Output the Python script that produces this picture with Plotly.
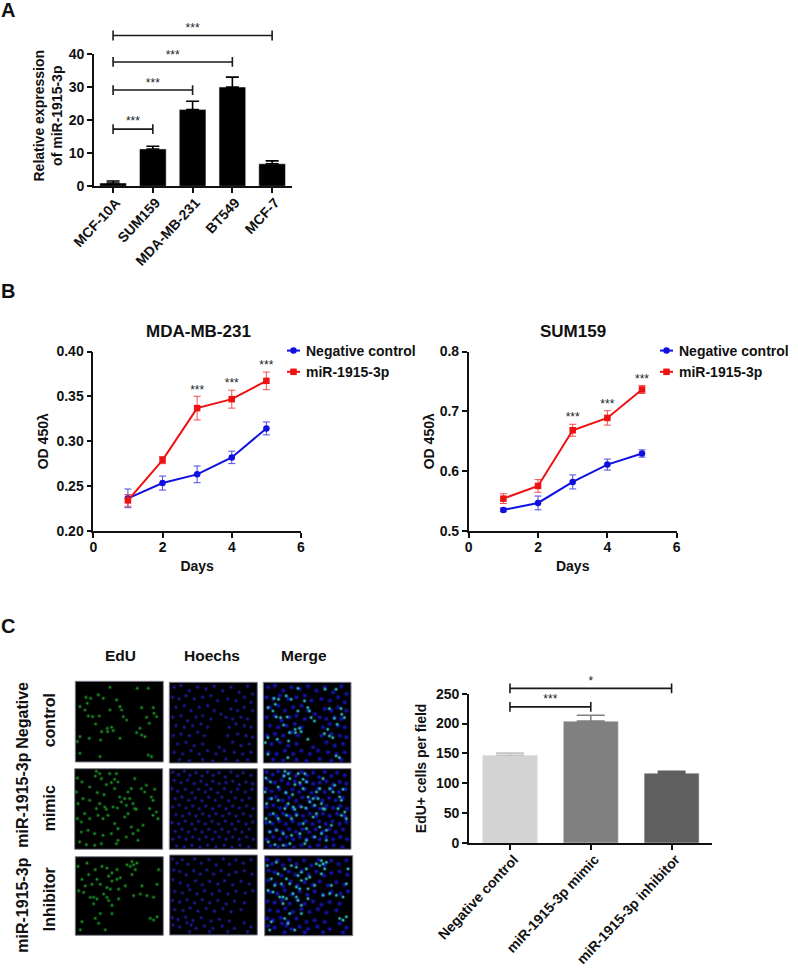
import plotly.graph_objects as go

W, H = 798, 970

# ---------- data ----------
cell_lines = ["MCF-10A", "SUM159", "MDA-MB-231", "BT549", "MCF-7"]
expr_values = [1.0, 11.3, 23.2, 30.0, 6.8]
expr_errors = [0.6, 0.8, 2.5, 3.0, 0.9]
expr_bracket_ends = [1, 2, 3, 4]
expr_bracket_levels = [17.3, 29.1, 37.6, 45.6]
expr_star_x = [0.5, 1.0, 1.5, 2.0]
expr_star_y = [19.4, 31.0, 39.5, 47.5]

days = [1, 2, 3, 4, 5]
mda_nc = [0.2364, 0.2534, 0.2631, 0.2820, 0.3143]
mda_nc_err = [0.0104, 0.0078, 0.0093, 0.0069, 0.0072]
mda_mir = [0.2341, 0.2790, 0.3369, 0.3469, 0.3673]
mda_mir_err = [0.0065, 0.0040, 0.0132, 0.0100, 0.0098]
mda_star_days = [3, 4, 5]
mda_star_y = [0.3560, 0.3634, 0.3842]

sum_nc = [0.5352, 0.5469, 0.5820, 0.6110, 0.6295]
sum_nc_err = [0.0030, 0.0115, 0.0117, 0.0092, 0.0061]
sum_mir = [0.5541, 0.5753, 0.6684, 0.6890, 0.7365]
sum_mir_err = [0.0081, 0.0106, 0.0100, 0.0120, 0.0067]
sum_star_days = [3, 4, 5]
sum_star_y = [0.6885, 0.7114, 0.7521]

edu_groups = ["Negative control", "miR-1915-3p mimic", "miR-1915-3p inhibitor"]
edu_values = [147, 204, 117]
edu_errors = [3.5, 10, 3]
edu_bracket_ends = [1, 2]
edu_bracket_levels = [228, 259]
edu_star_x = [0.5, 1.0]
edu_star_y = [240, 269]
edu_star_text = ["***", "*"]

# fluorescence fields: nuclei positions
edu_1 = [(104,18),(32,48),(46,51),(14,76),(69,41),(84,51),(36,66),(124,56),(52,106),(39,104),(72,104),(61,128),(29,86),(134,76),(139,86),(199,79),(234,79),(236,96),(214,108),(222,126),(96,141),(109,138),(114,148),(97,151),(14,166),(79,151),(76,176),(42,171),(194,141),(184,154),(199,161),(209,166),(134,171),(74,226),(14,216),(186,21),(219,21),(144,106),(154,116),(244,106),(6,181),(104,86),(219,221),(229,226)]
edu_2 = [(65,8),(75,15),(62,22),(80,30),(105,15),(125,15),(120,32),(130,40),(110,42),(95,48),(8,28),(22,40),(45,55),(68,72),(88,78),(120,60),(135,85),(150,90),(165,90),(160,70),(170,60),(200,60),(210,70),(240,62),(230,85),(75,105),(90,115),(95,122),(115,115),(128,118),(155,110),(175,105),(185,122),(160,135),(150,145),(180,120),(140,100),(65,120),(30,135),(45,150),(20,160),(8,150),(70,140),(85,150),(100,140),(120,165),(130,180),(170,175),(190,185),(205,170),(235,140),(245,130),(250,150),(20,190),(40,185),(60,195),(85,200),(110,195),(130,215),(155,205),(175,195),(190,215),(15,220),(35,228),(60,230),(80,225),(125,225),(10,105),(25,90),(5,70),(45,95),(180,30),(215,50),(235,95),(225,120)]
edu_3 = [(60,40),(40,55),(80,30),(95,35),(110,50),(125,40),(155,25),(165,30),(170,15),(180,40),(170,55),(175,25),(185,20),(65,70),(50,85),(75,85),(95,95),(110,75),(125,70),(135,65),(100,60),(10,105),(25,110),(45,125),(55,125),(65,130),(55,145),(85,115),(95,125),(100,135),(105,100),(130,100),(75,175),(110,150),(30,90),(150,90),(175,120),(195,115),(215,120),(235,125),(200,90),(245,85),(20,200),(60,190),(70,205),(90,225),(15,225),(235,195),(245,185),(110,175),(130,130),(20,70),(8,30),(35,20),(250,40),(225,190)]
hoe_1 = [(15,15),(35,10),(60,25),(85,15),(110,20),(135,12),(160,25),(185,15),(210,30),(235,12),(250,35),(10,45),(30,50),(50,40),(75,50),(100,45),(125,40),(145,55),(175,50),(200,55),(225,45),(245,60),(20,75),(45,70),(65,85),(90,75),(115,70),(135,85),(155,95),(185,80),(205,85),(225,75),(250,85),(10,105),(35,100),(55,115),(80,105),(100,100),(125,110),(170,105),(190,110),(215,105),(235,110),(20,130),(45,135),(70,130),(95,125),(115,135),(180,135),(200,125),(225,130),(245,135),(12,160),(35,155),(60,160),(85,150),(105,160),(175,160),(205,155),(230,160),(250,165),(25,185),(50,180),(75,190),(100,185),(150,195),(190,180),(215,190),(240,185),(15,210),(40,215),(65,205),(90,215),(115,205),(140,215),(165,205),(195,210),(220,215),(245,210),(30,232),(60,235),(100,232),(130,236),(170,230),(205,235),(235,232)]
hoe_2 = [(10,10),(28,18),(45,8),(62,20),(80,12),(98,22),(115,10),(132,20),(150,12),(168,25),(185,10),(205,22),(222,12),(245,20),(15,35),(35,42),(55,35),(75,45),(95,38),(112,48),(130,38),(150,45),(170,42),(190,38),(210,48),(230,40),(250,45),(8,60),(25,68),(48,62),(68,72),(88,62),(108,70),(125,62),(145,72),(165,60),(185,70),(205,62),(228,70),(248,62),(18,90),(38,85),(58,95),(78,88),(98,96),(118,86),(138,95),(158,86),(178,96),(198,88),(218,95),(240,88),(10,115),(30,110),(50,118),(70,112),(90,120),(110,112),(130,120),(150,112),(170,120),(190,112),(210,118),(232,112),(252,120),(20,138),(40,142),(60,135),(80,142),(100,135),(120,142),(140,135),(160,142),(180,135),(200,142),(222,135),(244,142),(8,162),(28,165),(48,158),(68,166),(88,158),(108,166),(128,158),(148,166),(168,158),(188,166),(208,158),(230,166),(250,160),(18,188),(38,182),(58,190),(78,182),(98,190),(118,182),(138,190),(158,182),(178,190),(198,182),(218,190),(240,182),(10,212),(30,205),(50,212),(70,205),(90,212),(110,205),(130,212),(150,205),(170,212),(190,205),(210,212),(232,205),(252,212),(22,232),(45,235),(68,230),(92,236),(115,230),(140,235),(165,230),(188,236),(212,230),(238,235)]
hoe_3 = [(8,12),(22,25),(12,45),(38,14),(55,28),(75,12),(95,25),(118,14),(140,30),(162,12),(180,28),(200,15),(222,25),(245,14),(30,50),(50,60),(72,48),(92,58),(112,45),(132,58),(155,48),(178,60),(200,52),(225,48),(248,58),(10,75),(32,85),(55,92),(78,78),(98,90),(120,80),(145,88),(165,78),(190,90),(215,80),(240,88),(15,110),(38,115),(60,105),(82,118),(105,108),(128,118),(150,108),(175,118),(200,110),(228,115),(250,108),(8,138),(30,142),(52,135),(75,145),(98,135),(120,145),(145,138),(170,148),(195,140),(225,145),(15,165),(40,168),(62,160),(85,170),(110,162),(135,170),(160,162),(185,172),(215,165),(8,190),(25,195),(48,188),(70,198),(95,190),(125,200),(150,195),(180,200),(10,212),(30,218),(52,205),(65,212),(80,222),(105,215),(130,222),(158,215),(195,222),(225,205),(245,218),(60,232),(120,232),(175,232),(235,232)]

column_names = ["EdU", "Hoechs", "Merge"]

# ---------- pixel geometry helpers ----------
def dx(l, r):
    return [l / W, r / W]

def dy(t, b):
    return [1 - b / H, 1 - t / H]

STAR_FONT = dict(family="Liberation Sans", size=12, color="#222")
TITLE_FONT = dict(family="Liberation Sans", size=14, color="#111", weight="bold")
BOLD_TICK = dict(family="Liberation Sans", size=14, color="#111", weight="bold")
BOLD_CAT = dict(family="Liberation Sans", size=14, color="#111", weight="bold")
LEG_FONT = dict(family="Liberation Sans", size=14, color="#111", weight="bold")

def axis_style(**kw):
    base = dict(showline=True, linecolor="#111", linewidth=1.6, ticks="outside", ticklen=5,
                tickwidth=1.5, tickcolor="#111", showgrid=False, zeroline=False,
                tickfont=BOLD_TICK)
    base.update(kw)
    return base

fig = go.Figure()
layout = {}

def brackets(xa, ya, ends, levels, cap):
    for e, lv in zip(ends, levels):
        fig.add_trace(go.Scatter(x=[0, e], y=[lv, lv], xaxis=xa, yaxis=ya, mode="lines+markers",
                                 line=dict(color="#1a1a1a", width=1.6),
                                 marker=dict(symbol="line-ns", size=cap, line=dict(color="#1a1a1a", width=1.6)),
                                 showlegend=False, hoverinfo="skip"))

def stars(xa, ya, xs, ys, texts=None):
    fig.add_trace(go.Scatter(x=xs, y=ys, xaxis=xa, yaxis=ya, mode="text",
                             text=texts or ["***"] * len(xs), textfont=STAR_FONT,
                             textposition="middle center", showlegend=False, hoverinfo="skip",
                             cliponaxis=False))

# ---------- Panel A ----------
A_top, A_bot = 54.0, 186.3
A_scale = (A_bot - A_top) / 40
A_overlay_top = 15.0
fig.add_trace(go.Bar(x=list(range(5)), y=expr_values, xaxis="x", yaxis="y", width=0.67,
                     marker=dict(color="#000"),
                     error_y=dict(type="data", symmetric=False, array=expr_errors, arrayminus=[0] * 5,
                                  color="#000", thickness=1.6, width=6.5),
                     showlegend=False))
layout["xaxis"] = axis_style(domain=dx(94, 292), range=[-0.48, 4.5], anchor="y",
                             tickvals=list(range(5)), ticktext=cell_lines, tickangle=-47, tickfont=BOLD_CAT,
                             ticklabelstandoff=-4, ticklabelshift=3)
layout["yaxis"] = axis_style(domain=dy(A_top, A_bot), range=[0, 40], anchor="x", tickvals=[0, 10, 20, 30, 40])
layout["yaxis2"] = dict(domain=dy(A_overlay_top, A_bot), range=[0, (A_bot - A_overlay_top) / A_scale],
                        anchor="x", visible=False)
brackets("x", "y2", expr_bracket_ends, expr_bracket_levels, 7)
stars("x", "y2", expr_star_x, expr_star_y)

# ---------- Panel B ----------
def line_panel(xa, ya, xname, yname, x_l, x_r, nc, nc_err, mir, mir_err, star_d, star_y, yr, yticks, ytext, legend, ystand):
    fig.add_trace(go.Scatter(x=days, y=nc, xaxis=xa, yaxis=ya, name="Negative control", legend=legend,
                             mode="lines+markers", line=dict(color="#1010e0", width=2),
                             marker=dict(symbol="circle", size=6.5, color="#1010e0"),
                             error_y=dict(type="data", array=nc_err, color="#4a4ae0", thickness=1, width=3.5),
                             cliponaxis=False))
    fig.add_trace(go.Scatter(x=days, y=mir, xaxis=xa, yaxis=ya, name="miR-1915-3p", legend=legend,
                             mode="lines+markers", line=dict(color="#ee1111", width=2),
                             marker=dict(symbol="square", size=6.5, color="#ee1111"),
                             error_y=dict(type="data", array=mir_err, color="#f05050", thickness=1, width=3.5),
                             cliponaxis=False))
    stars(xa, ya, star_d, star_y)
    layout[xname] = axis_style(domain=dx(x_l, x_r), range=[0, 6], anchor=ya, tickvals=[0, 2, 4, 6],
                               ticklabelstandoff=-3,
                               title=dict(text="Days", font=TITLE_FONT, standoff=8))
    layout[yname] = axis_style(domain=dy(351.5, 531), range=yr, anchor=xa, tickvals=yticks, ticktext=ytext,
                               title=dict(text="OD 450λ", font=TITLE_FONT, standoff=ystand))

line_panel("x2", "y3", "xaxis2", "yaxis3", 93.3, 301, mda_nc, mda_nc_err, mda_mir, mda_mir_err,
           mda_star_days, mda_star_y, [0.2, 0.4], [0.2, 0.25, 0.3, 0.35, 0.4],
           ["0.20", "0.25", "0.30", "0.35", "0.40"], "legend", 5)
line_panel("x3", "y4", "xaxis3", "yaxis4", 468.7, 676.7, sum_nc, sum_nc_err, sum_mir, sum_mir_err,
           sum_star_days, sum_star_y, [0.5, 0.8], [0.5, 0.6, 0.7, 0.8],
           ["0.5", "0.6", "0.7", "0.8"], "legend2", 2)
leg = dict(font=LEG_FONT, yanchor="top", xanchor="left", bgcolor="rgba(0,0,0,0)", tracegroupgap=0)
layout["legend"] = dict(leg, x=266 / W, y=1 - 335 / H)
layout["legend2"] = dict(leg, x=639 / W, y=1 - 335 / H)

# ---------- Panel C bars ----------
C_top, C_bot = 693.7, 843.0
C_scale = (C_bot - C_top) / 250
C_overlay_top = 670.0
fig.add_trace(go.Bar(x=list(range(3)), y=edu_values, xaxis="x4", yaxis="y5", width=0.68,
                     marker=dict(color=["#d3d3d3", "#808080", "#5f5f5f"]),
                     showlegend=False))
for i in range(3):
    fig.add_trace(go.Scatter(x=[i], y=[edu_values[i]], xaxis="x4", yaxis="y5", mode="markers",
                             marker=dict(size=1, color=["#d3d3d3", "#808080", "#5f5f5f"][i], opacity=0),
                             error_y=dict(type="data", symmetric=False, array=[edu_errors[i]], arrayminus=[0],
                                          color=["#c4c4c4", "#808080", "#5f5f5f"][i], thickness=1.6, width=14),
                             showlegend=False, hoverinfo="skip"))
layout["xaxis4"] = axis_style(domain=dx(469, 712), range=[-0.507, 2.5], anchor="y5",
                              tickvals=list(range(3)), ticktext=edu_groups, tickangle=-47, tickfont=BOLD_CAT,
                              ticklabelstandoff=-4, ticklabelshift=4)
layout["yaxis5"] = axis_style(domain=dy(C_top, C_bot), range=[0, 250], anchor="x4",
                              tickvals=[0, 50, 100, 150, 200, 250],
                              title=dict(text="EdU+ cells per field", font=TITLE_FONT, standoff=6))
layout["yaxis6"] = dict(domain=dy(C_overlay_top, C_bot), range=[0, (C_bot - C_overlay_top) / C_scale],
                        anchor="x4", visible=False)
brackets("x4", "y6", edu_bracket_ends, edu_bracket_levels, 7)
stars("x4", "y6", edu_star_x, edu_star_y, edu_star_text)

# ---------- Panel C micrographs ----------
panels = [
    # row, col, left, top, right, bottom (reference pixels)
    (0, 0, 75.3, 71.3 + 610, 163.3, 152 + 610),
    (0, 1, 169.3, 72.3 + 610, 257.3, 153 + 610),
    (0, 2, 263.3, 72.3 + 610, 351, 153 + 610),
    (1, 0, 74.7, 158.7 + 610, 162.7, 239.3 + 610),
    (1, 1, 169.3, 158.7 + 610, 257.3, 239.3 + 610),
    (1, 2, 263.3, 158.7 + 610, 351, 239.3 + 610),
    (2, 0, 75.3, 246.7 + 610, 163.3, 325.3 + 610),
    (2, 1, 169.7, 245 + 610, 257.3, 325 + 610),
    (2, 2, 264.7, 245.7 + 610, 352.7, 325.7 + 610),
]
edu_sets = [edu_1, edu_2, edu_3]
hoe_sets = [hoe_1, hoe_2, hoe_3]
shapes = []

def nuclei(pts, xn, yn, color, core, halo):
    # soft halo under a small core, as the micrographs are slightly blurred
    xs, ys = [p[0] for p in pts], [p[1] for p in pts]
    fig.add_trace(go.Scatter(x=xs, y=ys, xaxis=xn, yaxis=yn, mode="markers",
                             marker=dict(size=halo, color=color, opacity=0.35, line=dict(width=0)),
                             showlegend=False, hoverinfo="skip"))
    fig.add_trace(go.Scatter(x=xs, y=ys, xaxis=xn, yaxis=yn, mode="markers",
                             marker=dict(size=core, color=color, line=dict(width=0)),
                             showlegend=False, hoverinfo="skip"))

n = 5
ny = 7
for row, col, l, t, r, b in panels:
    xn, yn = f"x{n}", f"y{ny}"
    layout[f"xaxis{n}"] = dict(domain=dx(l, r), range=[0, 264], anchor=yn, visible=False)
    layout[f"yaxis{ny}"] = dict(domain=dy(t, b), range=[242, 0], anchor=xn, visible=False)
    shapes.append(dict(type="rect", xref=f"{xn} domain", yref=f"{yn} domain", x0=0, x1=1, y0=0, y1=1,
                       fillcolor="#000", line=dict(color="#7d7d8c", width=1), layer="below"))
    if col >= 1:
        nuclei(hoe_sets[row], xn, yn, "#1c1c9c" if col == 1 else "#1414b4", 2.2 if col == 1 else 2.8, 4.5 if col == 1 else 5.5)
    if col != 1:
        nuclei(edu_sets[row], xn, yn, "#1a8a24" if col == 0 else "#2eb4bc", 2.2, 4.2)
    n += 1
    ny += 1

# ---------- Text ----------
ann = []
def text(s, x, y, size=16, angle=0, color="#111"):
    ann.append(dict(text=s, x=x / W, y=1 - y / H, xref="paper", yref="paper", showarrow=False,
                    xanchor="center", yanchor="middle", textangle=angle,
                    font=dict(family="Liberation Sans", size=size, color=color, weight="bold")))

text("A", 8, 10, 20)
text("B", 8, 291, 20)
text("C", 8, 626, 20)
text("MDA-MB-231", 198, 331, 17)
text("SUM159", 572.7, 331, 17)
text("Relative expression<br>of miR-1915-3p", 47.5, 116, 14, -90)
for name, cx in zip(column_names, [120, 211.7, 304]):
    text(name, cx, 655, 15.5)
text("Negative", 21.7, 715, 16, -90)
text("control", 49.3, 720, 16, -90)
text("miR-1915-3p", 21.7, 800, 16, -90)
text("mimic", 49.3, 808, 16, -90)
text("miR-1915-3p", 21.7, 905, 16, -90)
text("Inhibitor", 49.3, 899, 16, -90)

fig.update_layout(width=W, height=H, autosize=False,
                  margin=dict(l=0, r=0, t=0, b=0, pad=0, autoexpand=False),
                  paper_bgcolor="white", plot_bgcolor="rgba(0,0,0,0)", barmode="overlay",
                  font=dict(family="Liberation Sans"), annotations=ann, shapes=shapes, **layout)

post = """
document.body.style.margin='0';document.body.style.overflow='hidden';
document.querySelectorAll('.legendlines path').forEach(function(p){p.setAttribute('d','M21,0h13');});
document.querySelectorAll('.legendpoints path.scatterpts').forEach(function(p){p.setAttribute('transform','translate(27.5,0)');});
"""
fig.write_html("out.html", config={"displayModeBar": False}, post_script=post)
